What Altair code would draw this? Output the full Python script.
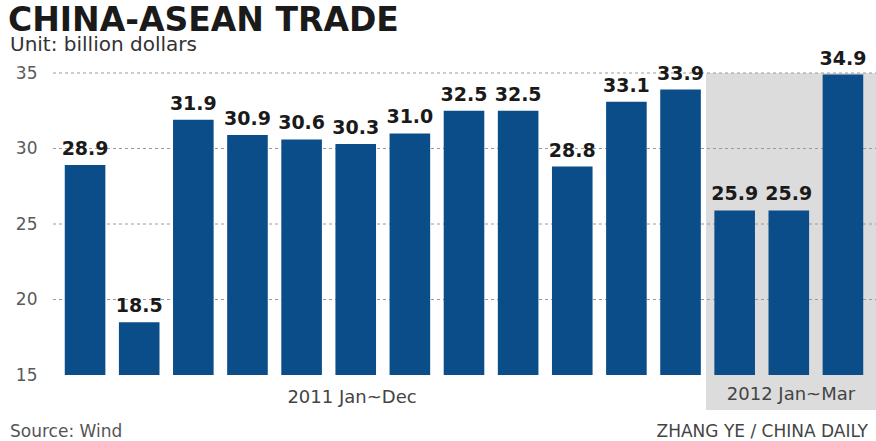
import altair as alt
import pandas as pd

months = ["2011-01", "2011-02", "2011-03", "2011-04", "2011-05", "2011-06",
          "2011-07", "2011-08", "2011-09", "2011-10", "2011-11", "2011-12",
          "2012-01", "2012-02", "2012-03"]
trade = [28.9, 18.5, 31.9, 30.9, 30.6, 30.3, 31.0, 32.5, 32.5, 28.8, 33.1, 33.9,
         25.9, 25.9, 34.9]
grid_values = [20, 25, 30, 35]
y_ticks = [15, 20, 25, 30, 35]

df = pd.DataFrame({"month": months, "trade": trade})
grid_df = pd.DataFrame({"v": grid_values})

W, H = 812, 302
BAR = "#0b4d88"
FONT = "DejaVu Sans"

x_enc = alt.X("month:N", sort=months, axis=None,
              scale=alt.Scale(paddingInner=0.25, paddingOuter=0.125))
y_scale = alt.Scale(domain=[15, 35], zero=False, nice=False)
y_axis = alt.Axis(values=y_ticks, grid=False, domain=False, ticks=False,
                  labelPadding=21, title=None, labelFont=FONT,
                  labelFontSize=17, labelColor="#5a5a5a")

shade = alt.Chart(df).mark_rect(color="#dcdcdd").encode(
    x=alt.value(648), x2=alt.value(818), y=alt.value(0), y2=alt.value(337)
).transform_filter("datum.month == '2012-01'")

grid = alt.Chart(grid_df).mark_rule(color="#9a9a9a", strokeDash=[3, 3], strokeWidth=1).encode(
    y=alt.Y("v:Q", scale=y_scale, axis=y_axis),
    x=alt.value(-5), x2=alt.value(818)
)

bars = alt.Chart(df).mark_bar(color=BAR).encode(
    x=x_enc,
    y=alt.Y("trade:Q", scale=y_scale, axis=y_axis),
    y2=alt.datum(15),
)

labels = alt.Chart(df).mark_text(font=FONT, fontWeight="bold", fontSize=19,
                                 baseline="bottom", dy=-6, color="#1a1a1a").encode(
    x=x_enc,
    y=alt.Y("trade:Q", scale=y_scale, axis=y_axis),
    text=alt.Text("trade:Q", format=".1f"),
)

def txt(s, x, y, size, color, weight="normal", align="left", baseline="alphabetic"):
    return alt.Chart(pd.DataFrame({"t": [s]})).mark_text(
        font=FONT, fontSize=size, fontWeight=weight, color=color,
        align=align, baseline=baseline
    ).encode(text="t:N", x=alt.value(x), y=alt.value(y))

title = txt("CHINA-ASEAN TRADE", -50, -42, 33, "#1a1a1a", weight="bold")
subtitle = txt("Unit: billion dollars", -48, -22, 20, "#333333")
g2011 = txt("2011 Jan~Dec", 294, 325, 18, "#444444", align="center", baseline="middle")
g2012 = txt("2012 Jan~Mar", 733, 322, 18, "#444444", align="center", baseline="middle")
source = txt("Source: Wind", -48, 359, 17, "#555555", baseline="middle")
credit = txt("ZHANG YE / CHINA DAILY", 810, 359, 17, "#444444", align="right", baseline="middle")

chart = alt.layer(shade, grid, bars, labels, title, subtitle, g2011, g2012, source, credit).properties(
    width=W, height=H,
    autosize=alt.AutoSizeParams(type="none"),
    padding={"left": 58, "top": 73, "right": 6, "bottom": 66},
    background="white",
).configure_view(stroke=None)

chart.save("out.html", embed_options={"renderer": "svg", "actions": False})
